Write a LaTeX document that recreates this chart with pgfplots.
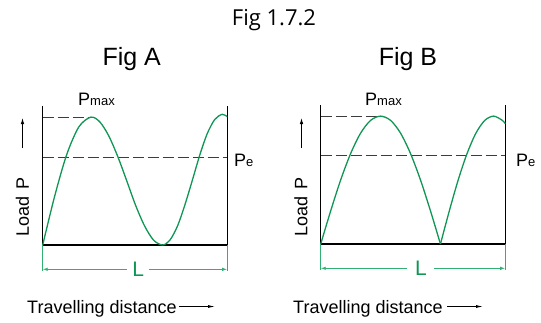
\documentclass[border=0pt]{standalone}
\usepackage{fontspec}
\setmainfont{Liberation Sans}
\newfontfamily\titlefont{Open Sans}
\usepackage{pgfplots}
\pgfplotsset{compat=1.18}
\usetikzlibrary{arrows.meta}

\definecolor{curvegreen}{RGB}{15,150,85}
\definecolor{dimgreen}{RGB}{50,175,115}
\definecolor{dashgray}{RGB}{60,60,60}

\pgfplotsset{
  panel/.style={scale only axis, width=184.5bp, height=139bp,
    xmin=0, xmax=1, ymin=0, ymax=1, hide axis, clip=false, anchor=origin},
  frame/.style={black, line width=1.4bp, no marks},
  curve/.style={curvegreen, line width=1.3bp, no marks, smooth},
  guide/.style={dashgray, line width=0.9bp, dash pattern=on 11bp off 4bp, no marks},
}
\newcommand{\lbl}{\fontsize{18bp}{20bp}\selectfont}
\newcommand{\sub}{\fontsize{13bp}{14bp}\selectfont}

\begin{document}
\begin{tikzpicture}[x=1bp, y=1bp]
\useasboundingbox (0,0) rectangle (541,322);

% titles
\node[anchor=base, inner sep=0, font=\titlefont\fontsize{22bp}{24bp}\selectfont] at (274,297) {Fig 1.7.2};
\node[anchor=base, inner sep=0, font=\fontsize{25bp}{28bp}\selectfont] at (131.7,257) {Fig A};
\node[anchor=base, inner sep=0, font=\fontsize{25bp}{28bp}\selectfont] at (408,257) {Fig B};

% ---------- Fig A ----------
\begin{axis}[panel, at={(42.7bp,77bp)}]
\addplot[frame] coordinates {(0,1) (0,0) (1,0) (1,1)};
\addplot[guide] coordinates {(0,0.92) (0.261,0.92)};
\addplot[guide] coordinates {(0,0.633) (1,0.633)};
\addplot[curve] coordinates {
  (0,0) (0.065,0.352) (0.130,0.650) (0.196,0.850) (0.261,0.920)
  (0.310,0.885) (0.358,0.785) (0.407,0.636) (0.456,0.460) (0.504,0.284)
  (0.553,0.135) (0.601,0.035) (0.650,0.000) (0.690,0.036) (0.731,0.138)
  (0.771,0.290) (0.812,0.470) (0.852,0.650) (0.892,0.802) (0.933,0.904)
  (0.973,0.940) (1.000,0.924)};
% dimension L
\draw[dimgreen, line width=0.9bp] (axis cs:0,0) -- (axis cs:0,-0.19);
\draw[dimgreen, line width=0.9bp] (axis cs:1,0) -- (axis cs:1,-0.19);
\draw[dimgreen, line width=0.9bp, -{Latex[length=5bp,width=3.5bp]}] (axis cs:0.455,-0.175) -- (axis cs:0,-0.175);
\draw[dimgreen, line width=0.9bp, -{Latex[length=5bp,width=3.5bp]}] (axis cs:0.575,-0.175) -- (axis cs:1,-0.175);
\node[anchor=base, inner sep=0, text=curvegreen, font=\fontsize{21bp}{22bp}\selectfont] at (axis cs:0.517,-0.223) {L};
\end{axis}
\node[anchor=base west, inner sep=0] at (78,217) {\lbl P\sub max};
\node[anchor=base west, inner sep=0] at (234,156) {\lbl P\sub e};
\node[rotate=90, anchor=east, inner sep=0, font=\lbl] at (22.5,145) {Load\hspace{7bp}P};
\draw[black, line width=0.8bp, -{Latex[length=6bp,width=3.5bp]}] (22.5,174) -- (22.5,204);
\node[anchor=base west, inner sep=0, font=\lbl] at (27,9) {Travelling distance};
\draw[black, line width=0.8bp, -{Latex[length=7bp,width=3bp]}] (179,15.5) -- (215,15.5);

% ---------- Fig B ----------
\begin{axis}[panel, at={(320.7bp,78bp)}]
\addplot[frame] coordinates {(0,1) (0,0) (1,0) (1,1)};
\addplot[guide] coordinates {(0,0.92) (0.3245,0.92)};
\addplot[guide] coordinates {(0,0.638) (1,0.638)};
\addplot[curve] coordinates {
  (0,0) (0.054,0.238) (0.108,0.460) (0.162,0.650) (0.216,0.797)
  (0.270,0.889) (0.3245,0.920) (0.379,0.889) (0.433,0.797) (0.487,0.650)
  (0.541,0.460) (0.595,0.238) (0.649,0)};
\addplot[curve] coordinates {
  (0.649,0) (0.697,0.238) (0.745,0.460) (0.793,0.650) (0.841,0.797)
  (0.889,0.889) (0.937,0.920) (0.985,0.889) (1.000,0.866)};
% dimension L
\draw[dimgreen, line width=0.9bp] (axis cs:0,0) -- (axis cs:0,-0.19);
\draw[dimgreen, line width=0.9bp] (axis cs:1,0) -- (axis cs:1,-0.19);
\draw[dimgreen, line width=0.9bp, -{Latex[length=5bp,width=3.5bp]}] (axis cs:0.465,-0.175) -- (axis cs:0,-0.175);
\draw[dimgreen, line width=0.9bp, -{Latex[length=5bp,width=3.5bp]}] (axis cs:0.615,-0.175) -- (axis cs:1,-0.175);
\node[anchor=base, inner sep=0, text=curvegreen, font=\fontsize{21bp}{22bp}\selectfont] at (axis cs:0.543,-0.23) {L};
\end{axis}
\node[anchor=base west, inner sep=0] at (365,217) {\lbl P\sub max};
\node[anchor=base west, inner sep=0] at (516,156) {\lbl P\sub e};
\node[rotate=90, anchor=east, inner sep=0, font=\lbl] at (301,145) {Load\hspace{7bp}P};
\draw[black, line width=0.8bp, -{Latex[length=6bp,width=3.5bp]}] (301.5,174) -- (301.5,204);
\node[anchor=base west, inner sep=0, font=\lbl] at (293,9) {Travelling distance};
\draw[black, line width=0.8bp, -{Latex[length=7bp,width=3bp]}] (447,15.5) -- (483,15.5);
\end{tikzpicture}
\end{document}
